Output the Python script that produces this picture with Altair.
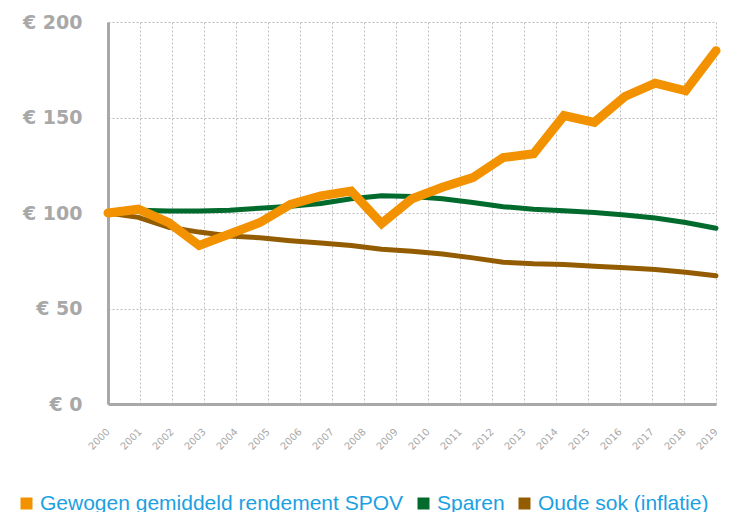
import altair as alt
import pandas as pd

# Axis tick labels (years) and y-axis values
jaren = [2000, 2001, 2002, 2003, 2004, 2005, 2006, 2007, 2008, 2009,
         2010, 2011, 2012, 2013, 2014, 2015, 2016, 2017, 2018, 2019]
y_waarden = [0, 50, 100, 150, 200]

# 21 data points per series (index along the x range)
punten = [0, 1, 2, 3, 4, 5, 6, 7, 8, 9, 10, 11, 12, 13, 14, 15, 16, 17, 18, 19, 20]

reeksen = ["Gewogen gemiddeld rendement SPOV", "Sparen", "Oude sok (inflatie)"]
kleuren = ["#F39200", "#006B2D", "#945C00"]

spov = [100, 102, 95, 83, 89, 95, 104.5, 109, 111.5, 94.5, 107.5,
        113.5, 118.5, 129, 131, 151, 147.5, 161, 168, 164, 185]
sparen = [100, 101.5, 101, 101, 101.5, 102.5, 103.5, 105, 107.5, 109, 108.7,
          107.5, 105.5, 103.3, 102, 101.2, 100.3, 99, 97.4, 95, 92]
oude_sok = [100, 97.7, 92.5, 90, 88, 87, 85.5, 84.3, 83, 81, 80,
            78.5, 76.5, 74.2, 73.4, 73, 72.1, 71.3, 70.4, 69, 67.2]

rows = []
for naam, vals in zip(reeksen, [spov, sparen, oude_sok]):
    for p, v in zip(punten, vals):
        rows.append({"punt": p, "waarde": v, "reeks": naam})
df = pd.DataFrame(rows)
grid_df = pd.DataFrame({"jaar": jaren, "waarde": [0] * len(jaren)})

GRAY = "#A8A8A8"
GRID = "#BDBDBD"

y_axis = alt.Axis(
    values=y_waarden, labelExpr="'€ ' + datum.value", title=None,
    labelFont="DejaVu Sans", labelFontWeight="bold", labelFontSize=19,
    labelColor=GRAY, labelPadding=26, ticks=False,
    domain=True, domainColor=GRAY, domainWidth=3,
    grid=True, gridColor=GRID, gridDash=[2, 2], gridWidth=1,
)
y_enc = alt.Y("waarde:Q", scale=alt.Scale(domain=[0, 200], nice=False), axis=y_axis)

color_scale = alt.Scale(domain=reeksen, range=kleuren)
x_punt = alt.X("punt:Q", scale=alt.Scale(domain=[0, 20], nice=False, zero=False), axis=None)

legend = alt.Legend(orient="none", legendX=-92, legendY=471,
                    direction="horizontal", title=None,
                    symbolType="square", symbolSize=9,
                    symbolStrokeWidth=9, symbolOpacity=1,
                    labelFont="Liberation Sans", labelFontSize=21,
                    labelColor="#1BA1E2", labelOffset=3,
                    columnPadding=0, labelLimit=500)

grid_layer = alt.Chart(grid_df).mark_point(opacity=0).encode(
    x=alt.X("jaar:Q", scale=alt.Scale(domain=[2000, 2019], nice=False, zero=False),
            axis=alt.Axis(values=jaren, format="d", title=None,
                          labelAngle=-45, labelAlign="right", labelBaseline="middle",
                          labelFont="DejaVu Sans", labelFontSize=10, labelColor=GRAY,
                          labelPadding=26, labelOffset=0, ticks=False,
                          domain=True, domainColor=GRAY, domainWidth=3,
                          grid=True, gridColor=GRID, gridDash=[2, 2], gridWidth=1)),
    y=y_enc,
)

def lijn(naam, breedte):
    return alt.Chart(df).transform_filter(
        alt.datum.reeks == naam
    ).mark_line(strokeWidth=breedte, strokeCap="round").encode(
        x=x_punt, y=y_enc,
        color=alt.Color("reeks:N", scale=color_scale, legend=legend),
    )

chart = alt.layer(
    grid_layer,
    lijn("Oude sok (inflatie)", 5),
    lijn("Sparen", 5),
    lijn("Gewogen gemiddeld rendement SPOV", 9),
).resolve_scale(x="independent").properties(
    width=608, height=382,
    autosize=alt.AutoSizeParams(type="none"),
    padding={"left": 100, "top": 14, "right": 5, "bottom": 112},
).configure_view(stroke=None)

chart.save("out.html", embed_options={"renderer": "svg", "actions": False})
